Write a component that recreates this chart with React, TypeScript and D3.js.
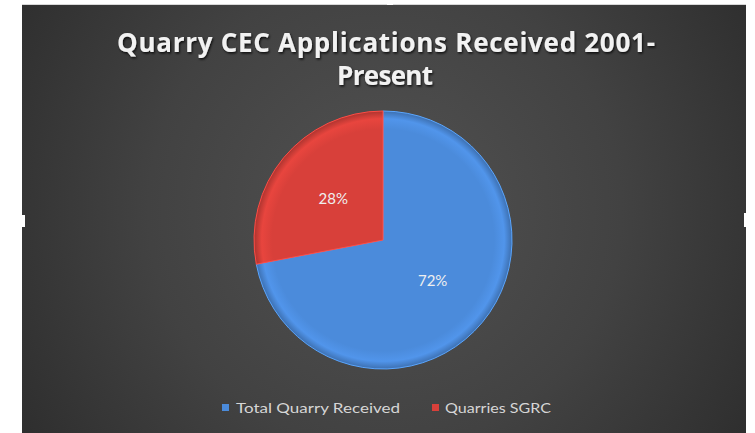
import React, { useEffect } from "react";
import * as d3 from "d3";

const categories = ["Total Quarry Received", "Quarries SGRC"];
const values = [72, 28];
const colors = ["#4b8bdb", "#d8403a"];
const titleLines = ["Quarry CEC Applications Received 2001-", "Present"];

export default function App() {
  useEffect(() => {
    document.body.style.margin = "0";
  }, []);

  const W = 755;
  const H = 433;
  const cx = 383;
  const cy = 240;
  const r = 129;

  const pie = d3.pie<number>().sort(null).value((d) => d);
  const arcs = pie(values);
  const arc = d3.arc<d3.PieArcDatum<number>>().innerRadius(0).outerRadius(r);
  const fmt = d3.format(".0%");
  const total = d3.sum(values);

  return (
    <svg width={W} height={H} style={{ display: "block" }}>
      <defs>
        <radialGradient id="bg" cx="385" cy="210" r="430" gradientUnits="userSpaceOnUse">
          <stop offset="0" stopColor="#525252" />
          <stop offset="0.55" stopColor="#424242" />
          <stop offset="1" stopColor="#2e2e2e" />
        </radialGradient>
        {colors.map((c, i) => (
          <radialGradient key={i} id={`g${i}`} cx={0} cy={0} r={r} gradientUnits="userSpaceOnUse">
            <stop offset="0" stopColor={c} />
            <stop offset="0.86" stopColor={c} />
            <stop offset="0.94" stopColor={d3.color(c)!.brighter(0.2).toString()} />
            <stop offset="1" stopColor={d3.color(c)!.darker(0.6).toString()} />
          </radialGradient>
        ))}
        <filter id="ts" x="-5%" y="-20%" width="110%" height="150%">
          <feDropShadow dx="1" dy="1.5" stdDeviation="1" floodColor="#000" floodOpacity="0.8" />
        </filter>
      </defs>
      <rect x={0} y={0} width={W} height={H} fill="#ffffff" />
      <rect x={22} y={4} width={724} height={H - 4} fill="url(#bg)" />
      <line x1={22} x2={746} y1={4.5} y2={4.5} stroke="#d8d8d8" strokeWidth={1} />

      <g filter="url(#ts)" fill="#f2f2f2" fontFamily="'Open Sans', sans-serif" fontWeight="bold" fontSize={26} textAnchor="middle">
        <text x={386} y={52} textLength={538} lengthAdjust="spacing">{titleLines[0]}</text>
        <text x={385} y={85} textLength={96} lengthAdjust="spacing">{titleLines[1]}</text>
      </g>

      <g transform={`translate(${cx},${cy})`}>
        {arcs.map((a, i) => (
          <path key={i} d={arc(a)!} fill={`url(#g${i})`} stroke={d3.color(colors[i])!.brighter(0.5).toString()} strokeWidth={1} />
        ))}
        {arcs.map((a, i) => {
          const [x, y] = arc.centroid(a);
          return (
            <text key={`l${i}`} x={x} y={y} dy="0.35em" textAnchor="middle" fill="#efefef" fontFamily="Lato, 'Open Sans', sans-serif" fontSize={15}>
              {fmt(a.data / total)}
            </text>
          );
        })}
      </g>

      <g fontFamily="Lato, 'Open Sans', sans-serif" fontSize={14} fill="#d6d6d6">
        <rect x={222} y={404} width={7} height={7} fill={colors[0]} />
        <text x={236} y={413} textLength={164} lengthAdjust="spacingAndGlyphs">{categories[0]}</text>
        <rect x={432} y={404} width={7} height={7} fill={colors[1]} />
        <text x={445} y={413} textLength={106} lengthAdjust="spacingAndGlyphs">{categories[1]}</text>
      </g>

      <rect x={387} y={0} width={6} height={5} fill="#ffffff" />
      <rect x={22} y={215} width={3} height={12} fill="#ffffff" />
      <rect x={744} y={213} width={2} height={14} fill="#ffffff" />
    </svg>
  );
}
